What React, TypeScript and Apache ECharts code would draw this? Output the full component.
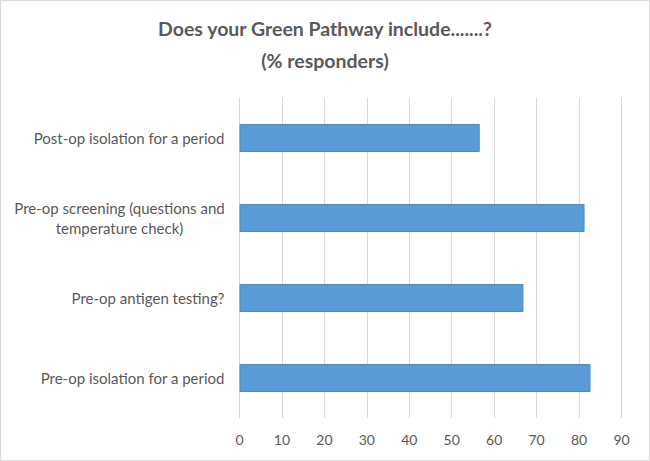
import React, { useEffect, useRef } from "react";
import * as echarts from "echarts";

const categories = [
  "Post-op isolation for a period",
  "Pre-op screening (questions and\ntemperature check)",
  "Pre-op antigen testing?",
  "Pre-op isolation for a period",
];
const values = [56.6, 81.3, 66.9, 82.7];
const xTicks = { min: 0, max: 90, interval: 10 };
const titleText = "Does your Green Pathway include.......?\n(% responders)";

function measure(text: string, font: string): number {
  const c = document.createElement("canvas").getContext("2d");
  if (!c) return text.length * 6.7;
  c.font = font;
  return c.measureText(text).width;
}

export default function App() {
  const ref = useRef<HTMLDivElement>(null);
  useEffect(() => {
    if (!ref.current) return;
    const chart = echarts.init(ref.current, null, { renderer: "svg" });
    const cssFont = "15px Lato";
    const catData = categories.map((c) => {
      const parts = c.split("\n");
      if (parts.length === 1) return c;
      const w = Math.max(...parts.map((p) => measure(p, cssFont)));
      return {
        value: c,
        textStyle: { align: "center", padding: [0, Math.round(w), 0, 0] },
      };
    });
    chart.setOption({
      animation: false,
      backgroundColor: "#ffffff",
      title: {
        text: titleText,
        left: "center",
        top: 7,
        textStyle: {
          fontFamily: "Lato",
          fontWeight: "bold",
          fontSize: 19.5,
          color: "#595959",
          lineHeight: 32,
        },
      },
      graphic: [
        {
          type: "rect",
          shape: { x: 0.5, y: 0.5, width: 649, height: 460 },
          style: { fill: "none", stroke: "#d9d9d9", lineWidth: 1 },
          silent: true,
        },
      ],
      grid: { left: 239.5, right: 28.5, top: 98, bottom: 43, containLabel: false },
      xAxis: {
        type: "value",
        min: xTicks.min,
        max: xTicks.max,
        interval: xTicks.interval,
        axisLine: { show: false },
        axisTick: { show: false },
        splitLine: { show: true, lineStyle: { color: "#d9d9d9", width: 1 } },
        axisLabel: {
          color: "#595959",
          fontFamily: "Lato",
          fontSize: 14,
          margin: 14,
        },
      },
      yAxis: {
        type: "category",
        data: catData,
        inverse: true,
        axisLine: { show: true, lineStyle: { color: "#d9d9d9", width: 1 } },
        axisTick: { show: false },
        axisLabel: {
          fontFamily: "Lato",
          fontSize: 15,
          color: "#595959",
          lineHeight: 20,
          margin: 15,
        },
      },
      series: [
        {
          type: "bar",
          data: values,
          barCategoryGap: "65%",
          itemStyle: { color: "#5b9bd5", borderColor: "#4a8bc9", borderWidth: 1 },
        },
      ],
    });
    return () => chart.dispose();
  }, []);
  return (
    <div
      ref={ref}
      style={{ position: "fixed", left: 0, top: 0, width: 650, height: 461 }}
    />
  );
}
